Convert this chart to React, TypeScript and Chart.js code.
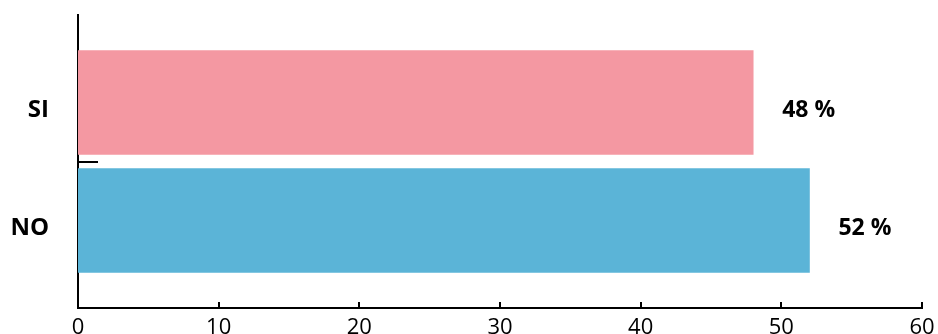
import React, { useEffect, useRef } from "react";
import { Chart, registerables } from "chart.js";

Chart.register(...registerables);

const categories = ["SI", "NO"];
const values = [48, 52];
const barColors = ["#F498A2", "#5BB4D7"];
const xTickStep = 10;
const xMax = 60;

const FONT = '"Open Sans", "Noto Sans", sans-serif';

const decorPlugin = {
  id: "decor",
  afterDatasetsDraw(chart: any) {
    const { ctx, chartArea } = chart;
    const xs = chart.scales.x;
    const ys = chart.scales.y;
    ctx.save();
    ctx.strokeStyle = "#000";
    ctx.lineWidth = 2;
    // inward x tick marks
    xs.ticks.forEach((t: any) => {
      if (t.value <= 0) return;
      const px = Math.round(xs.getPixelForValue(t.value));
      ctx.beginPath();
      ctx.moveTo(px, chartArea.bottom);
      ctx.lineTo(px, chartArea.bottom - 6);
      ctx.stroke();
    });
    // category separator tick on y axis
    for (let i = 0; i < categories.length - 1; i++) {
      const py = Math.round(ys.getPixelForValue(i + 0.5));
      ctx.beginPath();
      ctx.moveTo(chartArea.left, py);
      ctx.lineTo(chartArea.left + 20, py);
      ctx.stroke();
    }
    // value labels
    const meta = chart.getDatasetMeta(0);
    ctx.fillStyle = "#000";
    ctx.font = `bold 23px ${FONT}`;
    ctx.textAlign = "left";
    ctx.textBaseline = "middle";
    meta.data.forEach((el: any, i: number) => {
      ctx.fillText(`${values[i]} %`, el.x + 29, el.y + 8);
    });
    ctx.restore();
  },
};

export default function App() {
  const ref = useRef<HTMLCanvasElement | null>(null);
  useEffect(() => {
    if (!ref.current) return;
    const chart = new Chart(ref.current, {
      type: "bar",
      data: {
        datasets: [
          {
            data: values.map((v, i) => ({ x: v, y: i })) as any,
            backgroundColor: barColors,
            borderWidth: 0,
            barThickness: 104,
          },
        ],
      },
      options: {
        indexAxis: "y",
        animation: false,
        responsive: false,
        devicePixelRatio: 1,
        layout: { padding: { top: 15, right: 16, left: 0, bottom: 0 } },
        plugins: { legend: { display: false }, tooltip: { enabled: false } },
        scales: {
          x: {
            type: "linear",
            min: 0,
            max: xMax,
            grid: { display: false, drawTicks: false },
            border: { display: true, color: "#000", width: 2 },
            ticks: {
              stepSize: xTickStep,
              color: "#000",
              padding: 7,
              font: { family: FONT, size: 22 },
              maxRotation: 0,
            },
            afterFit: (s: any) => {
              s.height = 26;
              s.paddingRight = 0;
            },
          },
          y: {
            type: "linear",
            reverse: true,
            offset: false,
            min: -0.7415,
            max: categories.length - 1 + 0.7415,
            grid: { display: false, drawTicks: false },
            border: { display: true, color: "#000", width: 2 },
            afterBuildTicks: (s: any) => {
              s.ticks = categories.map((_, i) => ({ value: i }));
            },
            ticks: {
              color: "#000",
              padding: 29,
              labelOffset: 8,
              font: { family: FONT, size: 24, weight: "bold" },
              callback: (v: any) => categories[v as number] ?? "",
            },
            afterFit: (s: any) => {
              s.width = 78;
              s.paddingTop = 0;
              s.paddingBottom = 0;
            },
          },
        },
      },
      plugins: [decorPlugin],
    });
    return () => chart.destroy();
  }, []);
  return (
    <div style={{ position: "fixed", left: 0, top: 0, width: 938, height: 334, background: "#fff" }}>
      <canvas ref={ref} width={938} height={334} style={{ display: "block" }} />
    </div>
  );
}
